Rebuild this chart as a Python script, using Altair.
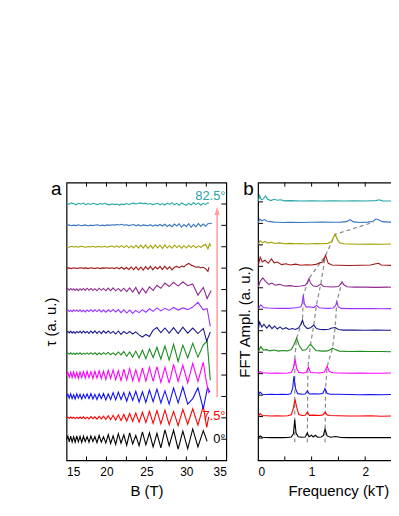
import altair as alt
import pandas as pd

# ---------------- data ----------------
ANGLES = ["0°", "7.5°", "15°", "22.5°", "30°", "37.5°", "45°", "52.5°", "60°", "67.5°", "75°", "82.5°"]
COLORS = ["#000000", "#ff0000", "#1010ff", "#ff00ff", "#1c8c1c", "#1a1a8c",
          "#9933ff", "#902890", "#a01818", "#a0a000", "#3a76c0", "#26a6a6"]

# panel a: torque traces (B in tesla, tau in units of the curve spacing)
B_GRID = [15.0, 15.17, 15.34, 15.52, 15.7, 15.89, 16.08, 16.28, 16.48, 16.69,
          16.9, 17.12, 17.34, 17.57, 17.81, 18.05, 18.3, 18.55, 18.81, 19.08,
          19.35, 19.63, 19.92, 20.22, 20.52, 20.83, 21.15, 21.48, 21.82, 22.17,
          22.53, 22.9, 23.28, 23.67, 24.08, 24.5, 24.93, 25.38, 25.84, 26.32,
          26.81, 27.32, 27.85, 28.4, 28.97, 29.56, 30.17, 30.8, 31.45, 32.12]
B_FINE = [15.0, 15.3, 15.6, 15.9, 16.2, 16.5, 16.8, 17.1, 17.4, 17.7,
          18.0, 18.3, 18.6, 18.9, 19.2, 19.5, 19.8, 20.1, 20.4, 20.7,
          21.0, 21.3, 21.6, 21.9, 22.2, 22.5, 22.8, 23.1, 23.4, 23.7,
          24.0, 24.3, 24.6, 24.9, 25.2, 25.5, 25.8, 26.1, 26.4, 26.7,
          27.0, 27.3, 27.6, 27.9, 28.2, 28.5, 28.8, 29.1, 29.4, 29.7,
          30.0, 30.3, 30.6, 30.9, 31.2, 31.5, 31.8, 32.1, 32.4, 32.7]

TAU_0 = [0.00, 0.14, -0.12, 0.15, -0.13, 0.12, -0.14, 0.16, -0.12, 0.13,
         -0.15, 0.14, -0.11, 0.12, -0.14, 0.15, -0.10, 0.13, -0.16, 0.18,
         -0.14, 0.12, -0.18, 0.22, -0.20, 0.16, -0.24, 0.26, -0.18, 0.20,
         -0.28, 0.30, -0.22, 0.18, -0.30, 0.34, -0.26, 0.30, -0.36, 0.28,
         -0.40, 0.44, -0.30, 0.42, -0.46, 0.38, -0.44, 0.48, -0.36, 0.40]
TAU_7 = [0.00, 0.03, -0.03, 0.04, -0.02, 0.03, -0.04, 0.03, -0.03, 0.04,
         -0.03, 0.05, -0.04, 0.03, -0.05, 0.06, -0.04, 0.05, -0.06, 0.07,
         -0.05, 0.08, -0.07, 0.10, -0.09, 0.12, -0.10, 0.14, -0.12, 0.16,
         -0.15, 0.20, -0.16, 0.22, -0.20, 0.26, -0.22, 0.30, -0.26, 0.34,
         -0.28, 0.36, -0.32, 0.30, -0.36, 0.40, -0.30, 0.42, -0.34, 0.55]
TAU_15 = [0.00, 0.10, -0.08, 0.12, -0.10, 0.08, -0.12, 0.12, -0.08, 0.10,
          -0.12, 0.10, -0.08, 0.12, -0.10, 0.14, -0.12, 0.10, -0.14, 0.12,
          -0.10, 0.14, -0.16, 0.12, -0.14, 0.18, -0.16, 0.20, -0.14, 0.18,
          -0.22, 0.20, -0.18, 0.24, -0.26, 0.22, -0.28, 0.30, -0.24, 0.34,
          -0.30, 0.26, -0.36, 0.40, -0.30, 0.44, -0.36, -0.10, 0.40, -0.58]
TAU_22 = [0.00, 0.12, -0.10, 0.14, -0.12, 0.15, -0.12, 0.13, -0.15, 0.14,
          -0.12, 0.16, -0.14, 0.18, -0.12, 0.15, -0.16, 0.18, -0.14, 0.20,
          -0.16, 0.18, -0.20, 0.22, -0.16, 0.24, -0.22, 0.20, -0.26, 0.28,
          -0.22, 0.30, -0.26, 0.24, -0.30, 0.34, -0.28, 0.36, -0.30, 0.40,
          -0.34, 0.36, -0.38, 0.50, -0.30, 0.46, -0.36, 0.55, -0.30, 0.60]
TAU_30 = [0.00, 0.03, -0.02, 0.04, -0.03, 0.02, -0.04, 0.03, -0.02, 0.04,
          -0.03, 0.03, -0.02, 0.04, -0.03, 0.05, -0.03, 0.04, -0.05, 0.03,
          -0.04, 0.05, -0.03, 0.06, -0.05, 0.04, -0.06, 0.08, -0.06, 0.10,
          -0.12, 0.08, -0.16, 0.12, -0.20, 0.16, -0.24, 0.22, -0.18, 0.30,
          -0.26, 0.36, -0.30, 0.44, -0.36, 0.40, -0.20, 0.48, -0.16, 0.40]
TAU_37 = [0.00, 0.04, -0.03, 0.05, -0.04, 0.03, -0.05, 0.04, -0.02, 0.05,
          -0.04, 0.06, -0.03, 0.04, -0.05, 0.06, -0.04, 0.07, -0.05, 0.05,
          -0.06, 0.07, -0.04, 0.06, -0.05, 0.04, -0.08, 0.06, -0.10, 0.04,
          -0.06, 0.04, -0.08, 0.02, -0.12, -0.22, -0.10, -0.20, 0.10, 0.22,
          -0.02, 0.20, -0.04, 0.22, -0.06, 0.24, -0.04, 0.20, -0.06, 0.18]
TAU_45 = [0.00, 0.04, -0.03, 0.03, -0.04, 0.05, -0.02, 0.04, -0.03, 0.05,
          -0.04, 0.03, -0.05, 0.04, -0.03, 0.06, -0.04, 0.05, -0.03, 0.06,
          -0.05, 0.04, -0.06, 0.05, -0.04, 0.07, -0.05, 0.06, -0.08, 0.05,
          -0.10, 0.04, -0.12, 0.02, -0.08, 0.06, -0.06, 0.10, -0.02, 0.14,
          0.00, 0.12, 0.02, 0.16, 0.04, 0.14, 0.06, 0.18, 0.40, 0.05]
TAU_52 = [0.00, 0.04, -0.03, 0.05, -0.02, 0.04, -0.04, 0.03, -0.05, 0.04,
          -0.03, 0.05, -0.04, 0.06, -0.03, 0.05, -0.05, 0.04, -0.06, 0.06,
          -0.04, 0.05, -0.06, 0.07, -0.05, 0.08, -0.06, 0.05, -0.08, 0.06,
          -0.10, 0.08, -0.12, 0.10, -0.20, 0.06, -0.16, 0.12, -0.04, 0.20,
          0.06, 0.30, 0.14, 0.34, 0.16, 0.36, 0.18, 0.26, -0.26, 0.10]
# the four top traces are read on the finer, uniform B_FINE grid
TAU_60 = [0.00, 0.01, -0.02, 0.02, -0.01, 0.00, 0.02, -0.01, 0.01, -0.02,
          0.02, 0.00, -0.01, 0.02, -0.02, 0.01, 0.00, 0.02, -0.01, 0.02,
          -0.02, 0.03, -0.03, 0.04, -0.05, 0.03, -0.06, 0.05, -0.07, 0.06,
          -0.08, 0.05, -0.09, 0.07, -0.06, 0.09, -0.08, 0.06, -0.04, 0.08,
          -0.07, 0.09, -0.05, 0.06, -0.08, 0.04, 0.08, 0.02, 0.10, 0.06,
          0.16, 0.22, 0.14, 0.10, 0.04, 0.06, 0.02, 0.04, -0.02, -0.15]
TAU_67 = [0.00, -0.02, 0.02, -0.01, 0.01, -0.02, 0.02, 0.00, -0.02, 0.01,
          -0.01, 0.02, -0.02, 0.01, 0.00, -0.01, 0.02, -0.02, 0.01, 0.03,
          -0.02, 0.04, -0.03, 0.05, -0.04, 0.06, -0.05, 0.04, -0.06, 0.07,
          -0.05, 0.08, -0.06, 0.09, -0.07, 0.06, -0.08, 0.09, -0.05, 0.07,
          -0.08, 0.08, -0.06, 0.05, -0.07, 0.08, -0.04, 0.06, -0.07, 0.05,
          -0.06, 0.07, -0.04, 0.06, -0.05, 0.04, -0.03, 0.06, 0.12, -0.10]
TAU_75 = [0.00, 0.02, -0.02, 0.01, -0.01, 0.03, -0.02, 0.00, 0.02, -0.03,
          0.01, -0.01, 0.02, 0.03, -0.02, 0.01, -0.01, 0.02, 0.00, 0.03,
          0.01, 0.04, 0.02, 0.05, 0.01, 0.03, -0.01, 0.02, 0.04, -0.02,
          0.03, -0.03, 0.02, 0.00, -0.02, 0.03, -0.04, 0.02, -0.02, 0.04,
          -0.03, 0.05, -0.05, 0.03, -0.06, 0.06, -0.03, 0.07, -0.08, 0.04,
          -0.06, 0.08, -0.09, 0.05, -0.07, 0.09, -0.05, 0.06, -0.04, 0.08]
TAU_82 = [0.06, -0.02, 0.05, 0.01, -0.04, 0.03, -0.01, 0.04, -0.03, 0.02,
          -0.02, 0.03, 0.00, -0.03, 0.02, -0.01, 0.03, -0.02, -0.04, 0.01,
          -0.03, 0.00, -0.05, -0.01, -0.03, 0.02, -0.02, 0.01, 0.04, 0.00,
          0.03, 0.05, 0.01, 0.04, -0.01, 0.02, -0.03, 0.00, 0.03, -0.04,
          0.02, -0.05, 0.04, -0.02, 0.06, -0.04, 0.03, -0.06, 0.05, -0.01,
          -0.06, 0.04, -0.05, 0.07, -0.03, 0.05, -0.06, 0.03, -0.02, 0.05]
TAUS = [TAU_0, TAU_7, TAU_15, TAU_22, TAU_30, TAU_37, TAU_45, TAU_52, TAU_60, TAU_67, TAU_75, TAU_82]
GRIDS = [B_GRID] * 8 + [B_FINE] * 4
TAIL_B = [[32.6], [32.55, 32.8], [32.65, 32.95], [32.5, 32.8], [32.6, 33.0], [32.55, 33.0],
          [32.6, 33.0], [32.6, 33.1], [32.85], [32.9, 33.1], [33.2], [32.8]]
TAIL_V = [[-0.10], [-0.45, 0.05], [0.42, 0.20], [-0.30, -0.85], [0.60, -1.25], [-0.42, 0.02],
          [0.10, -0.72], [-0.42, -0.05], [0.05], [0.14, 0.02], [0.10], [0.02]]

# panel b: FFT spectra (frequency in kT, amplitude in units of the curve spacing)
F_0 = [0.0, 0.04, 0.08, 0.15, 0.25, 0.35, 0.45, 0.55, 0.62, 0.66, 0.685, 0.71, 0.75, 0.82, 0.88, 0.92, 0.95, 1.0,
       1.03, 1.07, 1.11, 1.18, 1.22, 1.25, 1.29, 1.35, 1.45, 1.55, 1.7, 1.9, 2.1, 2.3, 2.5, 2.7, 2.9, 3.0]
A_0 = [0.0, 0.10, 0.04, 0.03, 0.02, 0.03, 0.02, 0.03, 0.05, 0.20, 0.85, 0.22, 0.06, 0.04, 0.05, 0.24, 0.06, 0.13,
       0.05, 0.13, 0.04, 0.05, 0.12, 0.42, 0.10, 0.04, 0.07, 0.03, 0.02, 0.03, 0.02, 0.03, 0.02, 0.03, 0.02, 0.02]
F_7 = [0.0, 0.04, 0.08, 0.15, 0.25, 0.35, 0.45, 0.55, 0.62, 0.66, 0.69, 0.72, 0.76, 0.82, 0.88, 0.92, 0.96, 1.05,
       1.15, 1.21, 1.25, 1.29, 1.35, 1.5, 1.7, 1.9, 2.1, 2.3, 2.5, 2.7, 2.9, 3.0]
A_7 = [0.0, 0.14, 0.05, 0.04, 0.03, 0.04, 0.03, 0.04, 0.08, 0.40, 0.80, 0.45, 0.10, 0.05, 0.06, 0.20, 0.06, 0.07,
       0.05, 0.08, 0.21, 0.08, 0.05, 0.04, 0.03, 0.03, 0.04, 0.02, 0.03, 0.02, 0.03, 0.02]
F_15 = [0.0, 0.04, 0.08, 0.15, 0.25, 0.35, 0.45, 0.55, 0.61, 0.645, 0.67, 0.70, 0.74, 0.82, 0.88, 0.92, 0.96, 1.05,
        1.15, 1.21, 1.25, 1.29, 1.35, 1.5, 1.7, 1.9, 2.1, 2.3, 2.5, 2.7, 2.9, 3.0]
A_15 = [0.0, 0.14, 0.04, 0.03, 0.04, 0.03, 0.04, 0.03, 0.06, 0.30, 0.88, 0.30, 0.07, 0.04, 0.05, 0.19, 0.05, 0.06,
        0.05, 0.09, 0.31, 0.08, 0.04, 0.04, 0.03, 0.02, 0.03, 0.02, 0.03, 0.02, 0.02, 0.02]
F_22 = [0.0, 0.04, 0.08, 0.15, 0.25, 0.35, 0.45, 0.55, 0.62, 0.66, 0.69, 0.72, 0.76, 0.84, 0.90, 0.94, 0.98, 1.05,
        1.15, 1.24, 1.29, 1.33, 1.4, 1.5, 1.7, 1.9, 2.1, 2.3, 2.5, 2.7, 2.9, 3.0]
A_22 = [0.0, 0.10, 0.04, 0.03, 0.02, 0.03, 0.02, 0.03, 0.05, 0.25, 0.70, 0.25, 0.06, 0.03, 0.05, 0.31, 0.05, 0.04,
        0.03, 0.08, 0.34, 0.10, 0.04, 0.03, 0.02, 0.03, 0.02, 0.02, 0.03, 0.02, 0.02, 0.02]
F_30 = [0.0, 0.05, 0.10, 0.16, 0.22, 0.30, 0.38, 0.46, 0.55, 0.62, 0.67, 0.72, 0.77, 0.83, 0.90, 0.95, 0.98, 1.02,
        1.08, 1.2, 1.3, 1.36, 1.39, 1.44, 1.52, 1.7, 1.9, 2.1, 2.3, 2.5, 2.7, 2.9, 3.0]
A_30 = [0.0, 0.26, 0.10, 0.12, 0.06, 0.10, 0.05, 0.08, 0.06, 0.12, 0.35, 0.65, 0.30, 0.08, 0.12, 0.30, 0.37, 0.25,
        0.08, 0.05, 0.06, 0.14, 0.19, 0.12, 0.05, 0.03, 0.04, 0.03, 0.03, 0.02, 0.03, 0.02, 0.02]
F_37 = [0.0, 0.03, 0.07, 0.11, 0.16, 0.21, 0.26, 0.31, 0.36, 0.41, 0.46, 0.52, 0.58, 0.64, 0.70, 0.76, 0.80, 0.83,
        0.86, 0.92, 0.98, 1.04, 1.09, 1.16, 1.24, 1.32, 1.38, 1.44, 1.50, 1.6, 1.8, 2.0, 2.2, 2.4, 2.6, 2.8, 3.0]
A_37 = [0.0, 0.40, 0.18, 0.30, 0.12, 0.26, 0.10, 0.22, 0.08, 0.18, 0.07, 0.14, 0.06, 0.10, 0.06, 0.14, 0.30, 0.49,
        0.25, 0.10, 0.14, 0.26, 0.10, 0.06, 0.05, 0.07, 0.13, 0.15, 0.06, 0.03, 0.03, 0.02, 0.03, 0.02, 0.02, 0.02, 0.02]
F_45 = [0.0, 0.05, 0.10, 0.18, 0.28, 0.38, 0.48, 0.58, 0.66, 0.74, 0.80, 0.825, 0.845, 0.865, 0.90, 0.96, 1.04,
        1.09, 1.14, 1.22, 1.32, 1.40, 1.445, 1.47, 1.495, 1.55, 1.7, 1.9, 2.1, 2.3, 2.5, 2.7, 2.9, 3.0]
A_45 = [0.0, 0.20, 0.08, 0.06, 0.05, 0.04, 0.05, 0.04, 0.06, 0.08, 0.12, 0.30, 0.65, 0.25, 0.10, 0.12, 0.08,
        0.19, 0.07, 0.05, 0.04, 0.06, 0.15, 0.36, 0.12, 0.04, 0.03, 0.03, 0.03, 0.02, 0.03, 0.02, 0.02, 0.02]
F_52 = [0.0, 0.04, 0.09, 0.14, 0.20, 0.26, 0.32, 0.40, 0.50, 0.60, 0.70, 0.80, 0.88, 0.92, 0.95, 0.98, 1.03,
        1.10, 1.17, 1.22, 1.30, 1.40, 1.50, 1.545, 1.57, 1.60, 1.66, 1.8, 2.0, 2.2, 2.4, 2.6, 2.8, 3.0]
A_52 = [0.0, 0.30, 0.46, 0.30, 0.16, 0.22, 0.12, 0.16, 0.08, 0.10, 0.06, 0.08, 0.12, 0.24, 0.43, 0.22, 0.08,
        0.06, 0.17, 0.06, 0.05, 0.04, 0.06, 0.18, 0.28, 0.14, 0.05, 0.03, 0.03, 0.02, 0.03, 0.02, 0.02, 0.02]
F_60 = [0.0, 0.04, 0.08, 0.13, 0.19, 0.25, 0.30, 0.36, 0.44, 0.52, 0.60, 0.70, 0.80, 0.90, 1.00, 1.08, 1.15,
        1.21, 1.26, 1.31, 1.38, 1.5, 1.7, 1.9, 2.1, 2.2, 2.25, 2.3, 2.5, 2.7, 2.9, 3.0]
A_60 = [0.0, 0.42, 0.20, 0.28, 0.14, 0.34, 0.16, 0.20, 0.08, 0.12, 0.06, 0.10, 0.05, 0.07, 0.06, 0.09, 0.16,
        0.20, 0.51, 0.14, 0.06, 0.05, 0.04, 0.05, 0.06, 0.12, 0.14, 0.06, 0.04, 0.05, 0.03, 0.02]
F_67 = [0.0, 0.04, 0.08, 0.13, 0.18, 0.25, 0.32, 0.40, 0.50, 0.60, 0.70, 0.80, 0.90, 1.0, 1.1, 1.2, 1.3, 1.37,
        1.41, 1.44, 1.47, 1.52, 1.6, 1.7, 1.9, 2.1, 2.3, 2.5, 2.7, 2.9, 3.0]
A_67 = [0.0, 0.20, 0.10, 0.16, 0.08, 0.12, 0.06, 0.09, 0.05, 0.07, 0.05, 0.06, 0.04, 0.05, 0.06, 0.05, 0.07, 0.14,
        0.36, 0.49, 0.30, 0.10, 0.05, 0.04, 0.03, 0.04, 0.03, 0.04, 0.03, 0.03, 0.02]
F_75 = [0.0, 0.03, 0.07, 0.12, 0.17, 0.23, 0.30, 0.38, 0.48, 0.6, 0.8, 1.0, 1.2, 1.4, 1.55, 1.65, 1.72, 1.78,
        1.9, 2.05, 2.15, 2.2, 2.26, 2.32, 2.45, 2.6, 2.8, 3.0]
A_75 = [0.0, 0.20, 0.12, 0.18, 0.10, 0.08, 0.06, 0.05, 0.04, 0.05, 0.04, 0.05, 0.06, 0.05, 0.06, 0.08, 0.17, 0.07,
        0.04, 0.06, 0.10, 0.20, 0.16, 0.08, 0.06, 0.05, 0.04, 0.03]
F_82 = [0.0, 0.03, 0.06, 0.10, 0.14, 0.18, 0.24, 0.30, 0.36, 0.42, 0.50, 0.6, 0.8, 1.0, 1.2, 1.4, 1.6, 1.8, 2.0,
        2.2, 2.26, 2.32, 2.5, 2.7, 2.9, 3.0]
A_82 = [0.0, 0.30, 0.10, 0.14, 0.28, 0.12, 0.06, 0.12, 0.08, 0.10, 0.05, 0.06, 0.04, 0.05, 0.04, 0.05, 0.04, 0.05,
        0.04, 0.06, 0.10, 0.05, 0.04, 0.03, 0.04, 0.03]
FREQS = [F_0, F_7, F_15, F_22, F_30, F_37, F_45, F_52, F_60, F_67, F_75, F_82]
AMPS = [A_0, A_7, A_15, A_22, A_30, A_37, A_45, A_52, A_60, A_67, A_75, A_82]

# dashed guides following the peaks (frequency, stacked position)
GUIDE_A_F = [0.685, 0.685, 0.72, 0.83, 0.845, 0.95, 1.26, 1.44, 2.15]
GUIDE_A_Y = [-0.2, 3.7, 4.65, 5.49, 6.65, 7.43, 8.51, 9.49, 10.05]
GUIDE_B_F = [0.92, 0.93, 0.98, 1.04, 1.09, 1.17, 1.26]
GUIDE_B_Y = [-0.2, 3.3, 4.37, 5.26, 6.19, 7.17, 8.51]
GUIDE_C_F = [1.25, 1.26, 1.29, 1.39, 1.44, 1.47, 1.57]
GUIDE_C_Y = [-0.2, 2.3, 3.34, 4.19, 5.15, 6.36, 7.28]

A_TICKS = [17.5, 20, 22.5, 25, 27.5, 30, 32.5]
B_TICKS = [0.5, 1.0, 1.5, 2.0, 2.5]

# ---------------- tables ----------------
rows = []
for k, (ang, tau) in enumerate(zip(ANGLES, TAUS)):
    for b, v in zip(GRIDS[k] + TAIL_B[k], tau + TAIL_V[k]):
        rows.append({"B": b, "y": v + k, "angle": ang})
df_a = pd.DataFrame(rows)

rows = []
for k, (ang, fs, am) in enumerate(zip(ANGLES, FREQS, AMPS)):
    for f, a in zip(fs, am):
        rows.append({"F": f, "y": a + k, "angle": ang})
df_b = pd.DataFrame(rows)

rows = []
for gid, (fs, ys) in enumerate([(GUIDE_A_F, GUIDE_A_Y), (GUIDE_B_F, GUIDE_B_Y), (GUIDE_C_F, GUIDE_C_Y)]):
    for i, (f, y) in enumerate(zip(fs, ys)):
        rows.append({"F": f, "y": y, "g": gid, "o": i})
df_guides = pd.DataFrame(rows)

W, H = 161, 280
FONT = "Liberation Sans"
PINK = "#ff9c9c"

color = alt.Color("angle:N", scale=alt.Scale(domain=ANGLES, range=COLORS), legend=None)

xa = alt.X("B:Q", scale=alt.Scale(domain=[15, 35], nice=False, zero=False),
           axis=alt.Axis(values=[15, 20, 25, 30, 35], title="B (T)", ticks=False, tickSize=0, domain=False,
                         grid=False, labelPadding=6, titlePadding=6, labelFontSize=12, titleFontSize=15,
                         titleFontWeight="normal", format="d"))
ya = alt.Y("y:Q", scale=alt.Scale(domain=[-0.99, 12.0], nice=False, zero=False),
           axis=alt.Axis(title="τ (a. u.)", labels=False, ticks=False, tickSize=0, domain=False, grid=False,
                         titlePadding=8, titleFontSize=15, titleFontWeight="normal"))

curves_a = alt.Chart(df_a).mark_line(strokeWidth=1.1).encode(x=xa, y=ya, color=color)
top_a = alt.Chart(pd.DataFrame({"B": A_TICKS})).mark_rule(color="black", strokeWidth=1).encode(
    x=xa, y=alt.value(0), y2=alt.value(4))
bot_a = alt.Chart(pd.DataFrame({"B": A_TICKS})).mark_rule(color="black", strokeWidth=1).encode(
    x=xa, y=alt.value(H - 4), y2=alt.value(H))
right_a = alt.Chart(pd.DataFrame({"y": list(range(12))})).mark_rule(color="black", strokeWidth=1).encode(
    y=ya, x=alt.value(W - 5), x2=alt.value(W))
arrow = alt.Chart(pd.DataFrame({"B": [33.85], "y": [1.98], "y2": [10.6]})).mark_rule(
    color=PINK, strokeWidth=1.5).encode(x=xa, y=ya, y2="y2:Q")
head = alt.Chart(pd.DataFrame({"B": [33.85], "y": [10.68]})).mark_point(
    shape="M0,-1L0.6,1L-0.6,1Z", filled=True, size=70, color=PINK, opacity=1).encode(x=xa, y=ya)
lab_top = alt.Chart(pd.DataFrame({"B": [34.9], "y": [11.37], "t": ["82.5°"]})).mark_text(
    align="right", baseline="middle", fontSize=13, color=COLORS[11]).encode(x=xa, y=ya, text="t:N")
lab_7 = alt.Chart(pd.DataFrame({"B": [34.9], "y": [1.09], "t": ["7.5°"]})).mark_text(
    align="right", baseline="middle", fontSize=13, color=COLORS[1]).encode(x=xa, y=ya, text="t:N")
lab_0 = alt.Chart(pd.DataFrame({"B": [34.9], "y": [0.02], "t": ["0°"]})).mark_text(
    align="right", baseline="middle", fontSize=13, color=COLORS[0]).encode(x=xa, y=ya, text="t:N")
tag_a = alt.Chart(pd.DataFrame({"t": ["a"]})).mark_text(
    align="center", baseline="alphabetic", fontSize=19, color="black").encode(
    x=alt.value(-10.5), y=alt.value(12.7), text="t:N")

panel_a = alt.layer(curves_a, top_a, bot_a, right_a, arrow, head, lab_top, lab_7, lab_0, tag_a).properties(
    width=W, height=H)

xb = alt.X("F:Q", scale=alt.Scale(domain=[0, 3], nice=False, zero=False),
           axis=alt.Axis(values=[0, 1, 2], title="Frequency (kT)", ticks=False, tickSize=0, domain=False,
                         grid=False, labelPadding=6, titlePadding=6, labelFontSize=12, titleFontSize=15,
                         titleFontWeight="normal", format="d"))
yb = alt.Y("y:Q", scale=alt.Scale(domain=[-1.04, 11.9], nice=False, zero=False),
           axis=alt.Axis(title="FFT Ampl. (a. u.)", labels=False, ticks=False, tickSize=0, domain=False,
                         grid=False, titlePadding=6, titleFontSize=15, titleFontWeight="normal"))

curves_b = alt.Chart(df_b).mark_line(strokeWidth=1.1, clip=True).encode(x=xb, y=yb, color=color)
guides = alt.Chart(df_guides).mark_line(color="#8a8a8a", strokeWidth=1.2, strokeDash=[4, 3]).encode(
    x=xb, y=yb, detail="g:N", order="o:Q")
top_b = alt.Chart(pd.DataFrame({"F": B_TICKS})).mark_rule(color="black", strokeWidth=1).encode(
    x=xb, y=alt.value(0), y2=alt.value(4))
bot_b = alt.Chart(pd.DataFrame({"F": B_TICKS})).mark_rule(color="black", strokeWidth=1).encode(
    x=xb, y=alt.value(H - 4), y2=alt.value(H))
left_b = alt.Chart(pd.DataFrame({"y": list(range(12))})).mark_rule(color="black", strokeWidth=1).encode(
    y=yb, x=alt.value(0), x2=alt.value(5))
tag_b = alt.Chart(pd.DataFrame({"t": ["b"]})).mark_text(
    align="center", baseline="alphabetic", fontSize=19, color="black").encode(
    x=alt.value(-9.7), y=alt.value(12.7), text="t:N")

panel_b = alt.layer(guides, curves_b, top_b, bot_b, left_b, tag_b).properties(width=162, height=H)

chart = alt.hconcat(panel_a, panel_b, spacing=8).properties(
    padding={"left": 35, "top": 171, "right": -29, "bottom": 5}
).configure(font=FONT).configure_view(stroke="black", strokeWidth=1.2).configure_axis(
    labelColor="black", titleColor="black", labelFont=FONT, titleFont=FONT)

chart.save("out.html", embed_options={"renderer": "svg", "actions": False})
